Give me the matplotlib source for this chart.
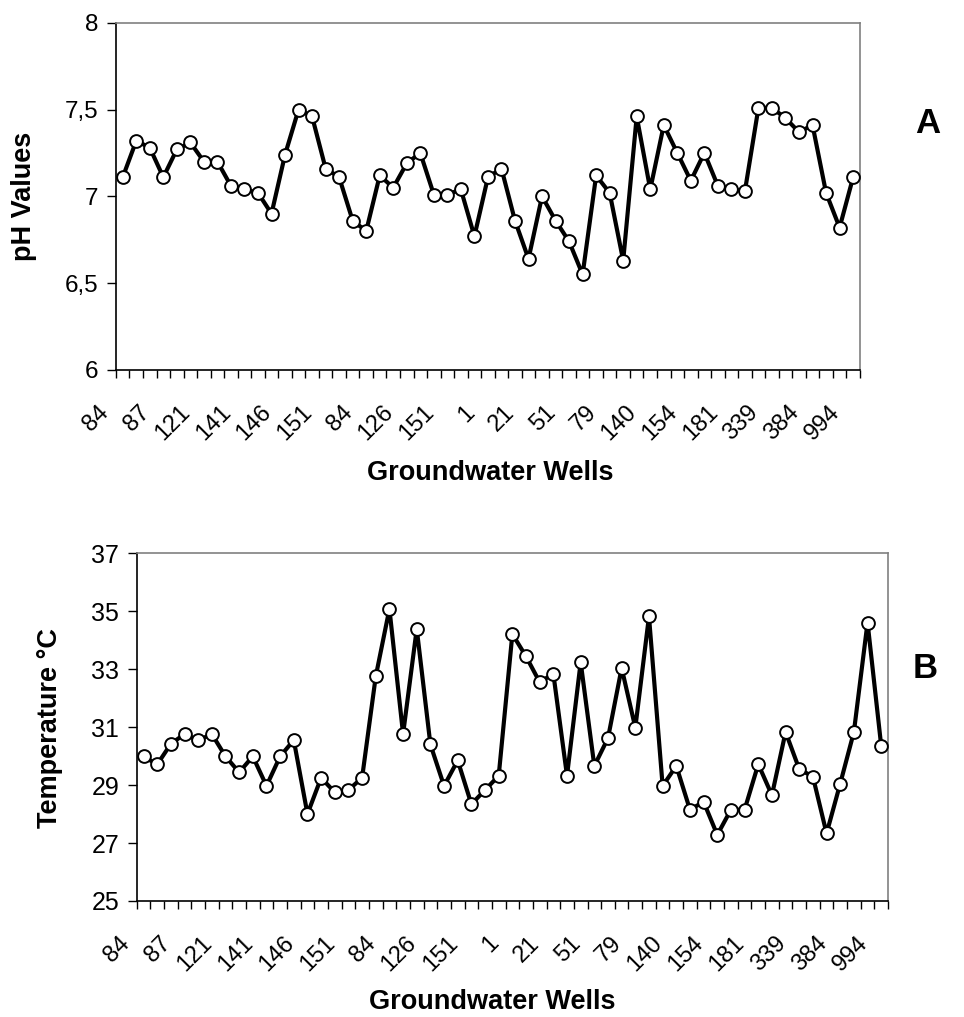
import matplotlib
matplotlib.use("Agg")
import matplotlib.pyplot as plt
from matplotlib.ticker import FixedLocator, FuncFormatter, NullFormatter
from matplotlib.transforms import ScaledTranslation

plt.rcParams["font.family"] = ["Liberation Sans", "DejaVu Sans"]

# well numbers shown under every third sample
well_labels = ["84", "87", "121", "141", "146", "151", "84", "126", "151", "1",
               "21", "51", "79", "140", "154", "181", "339", "384", "994"]

ph_values = [7.11, 7.32, 7.28, 7.11, 7.27, 7.31, 7.20, 7.20, 7.06, 7.04,
             7.02, 6.90, 7.24, 7.50, 7.46, 7.16, 7.11, 6.86, 6.80, 7.12,
             7.05, 7.19, 7.25, 7.01, 7.01, 7.04, 6.77, 7.11, 7.16, 6.86,
             6.64, 7.00, 6.86, 6.74, 6.55, 7.12, 7.02, 6.63, 7.46, 7.04,
             7.41, 7.25, 7.09, 7.25, 7.06, 7.04, 7.03, 7.51, 7.51, 7.45,
             7.37, 7.41, 7.02, 6.82, 7.11]

temperature = [29.99, 29.71, 30.42, 30.76, 30.54, 30.76, 29.99, 29.44, 29.99, 28.97,
               29.99, 30.55, 28.00, 29.25, 28.75, 28.83, 29.25, 32.75, 35.08, 30.76,
               34.39, 30.40, 28.97, 29.85, 28.34, 28.83, 29.32, 34.21, 33.44, 32.55,
               32.84, 29.32, 33.24, 29.66, 30.62, 33.04, 30.98, 34.82, 28.97, 29.66,
               28.15, 28.42, 27.28, 28.15, 28.15, 29.72, 28.65, 30.83, 29.55, 29.29,
               27.33, 29.05, 30.83, 34.61, 30.35]

n = len(ph_values)
x = list(range(n))


def comma_fmt(v, pos):
    return ("%g" % v).replace(".", ",")


def draw_panel(ax, series, tick_size, ylabel):
    ax.plot(x, series, color="black", lw=3.0, marker="o", markersize=9.2,
            markerfacecolor="white", markeredgecolor="black", markeredgewidth=1.4,
            zorder=3)
    ax.set_xlim(-0.5, n - 0.5)
    # tick marks between all wells, no default labels
    ax.xaxis.set_major_locator(FixedLocator([i - 0.5 for i in range(n + 1)]))
    ax.xaxis.set_major_formatter(NullFormatter())
    ax.tick_params(axis="x", length=6, width=1, direction="out")
    # slanted well labels on every third well, sitting left of and below the well
    shift = ScaledTranslation(-17 / 100, -39 / 100, fig.dpi_scale_trans)
    trans = ax.get_xaxis_transform() + shift
    for pos, lab in zip(range(0, n, 3), well_labels):
        ax.text(pos, 0, lab, transform=trans, rotation=45, ha="right",
                va="center", rotation_mode="anchor", fontsize=17)
    ax.tick_params(axis="y", length=6.5, width=1, direction="out", pad=6,
                   labelsize=tick_size)
    for side in ("top", "right"):
        ax.spines[side].set_color("#808080")
        ax.spines[side].set_linewidth(1.2)
    for side in ("left", "bottom"):
        ax.spines[side].set_linewidth(1.2)
    ax.set_xlabel("Groundwater Wells", fontsize=19.5, fontweight="bold")
    ax.set_ylabel(ylabel, fontsize=19.5, fontweight="bold")
    ax.xaxis.label.set_va("center")
    ax.yaxis.label.set_va("center")


fig = plt.figure(figsize=(9.64, 10.17), dpi=100)

# panel A: pH
ax1 = fig.add_axes([0.1203, 0.6362, 0.7717, 0.3415])
draw_panel(ax1, ph_values, 17.5, "pH Values")
ax1.set_ylim(6, 8)
ax1.set_yticks([6, 6.5, 7, 7.5, 8])
ax1.yaxis.set_major_formatter(FuncFormatter(comma_fmt))
ax1.xaxis.set_label_coords(0.5036, -0.296)
ax1.yaxis.set_label_coords(-0.1237, 0.501)
fig.text(0.962, 0.879, "A", fontsize=25, fontweight="bold", ha="center", va="center")

# panel B: temperature
ax2 = fig.add_axes([0.1418, 0.1141, 0.7794, 0.3419])
draw_panel(ax2, temperature, 18, "Temperature °C")
ax2.set_ylim(25, 37)
ax2.set_yticks(range(25, 38, 2))
ax2.xaxis.set_label_coords(0.473, -0.29)
ax2.yaxis.set_label_coords(-0.1154, 0.4976)
fig.text(0.96, 0.343, "B", fontsize=25, fontweight="bold", ha="center", va="center")

fig.savefig("out.png", dpi=100)
